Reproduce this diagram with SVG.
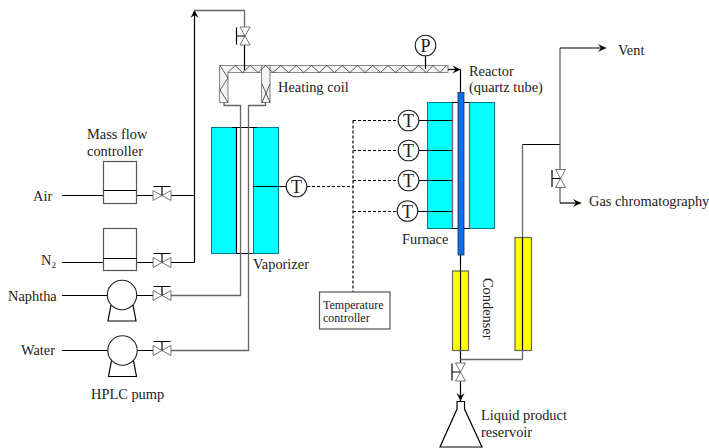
<svg xmlns="http://www.w3.org/2000/svg" width="709" height="448" viewBox="0 0 709 448">
<style>
text{font-family:"Liberation Serif","Times New Roman",serif;font-size:14.4px;fill:#222}
.small{font-size:12px}
.sym{font-size:18px;text-anchor:middle}
.k{fill:none;stroke:#000;stroke-width:1.2}
.g{fill:none;stroke:#666;stroke-width:1.3}
.d{fill:none;stroke:#000;stroke-width:1.2;stroke-dasharray:3 2}
.box{fill:#fff;stroke:#555;stroke-width:1.2}
.heat{fill:#00ffff;stroke:#078;stroke-width:1}
.cond{fill:#ffff00;stroke:#665;stroke-width:1.2}
.v{fill:#fff;stroke:#666;stroke-width:0.9}
.c{fill:#fff;stroke:#222;stroke-width:1.1}
.coil{fill:none;stroke:#333;stroke-width:0.8}
.band{fill:#f4f4f4;stroke:#888;stroke-width:1.1}
</style>
<defs>
<marker id="arr" markerUnits="userSpaceOnUse" markerWidth="12" markerHeight="10" refX="8" refY="5" orient="auto" overflow="visible">
<path d="M0,1 L8,5 L0,9 L3,5 Z" fill="#000"/>
</marker>
<g id="valveH">
<path class="v" d="M-9,-5 L0,0 L-9,5 Z M9,-5 L0,0 L9,5 Z"/>
<path class="k" d="M0,0 V-9 M-8.500,-9 H8.500"/>
</g>
<g id="valveV">
<path class="v" d="M-5,-9 L0,0 L5,-9 Z M-5,9 L0,0 L5,9 Z"/>
<path class="k" d="M0,0 H-8.500 M-8.500,-8.500 V8.500"/>
</g>
<g id="pump">
<circle class="c" r="14.700"/>
<path class="k" d="M-11,10 L-14,26 H14 L11,10" stroke-width="0.9"/>
</g>
<g id="tc">
<circle class="c" r="10.300"/>
<text class="sym" y="6.500">T</text>
</g>
</defs>

<g id="vaporizer">
<rect class="heat" x="211.500" y="127.500" width="25" height="126"/>
<rect class="heat" x="253.500" y="127.500" width="25" height="126"/>
<path class="k" d="M232,127.500 H257 M236.500,127.500 V253.500 M236.500,253.500 H253"/>
<text x="253" y="269">Vaporizer</text>
</g>

<g id="furnace">
<rect class="heat" x="427.500" y="102.500" width="25" height="126"/>
<rect class="heat" x="469.500" y="102.500" width="25" height="126"/>
<path class="g" d="M452.500,102.500 V228.500 M469.500,102.500 V228.500"/>
<path class="k" d="M452,102.500 H469 M452,228.500 H469"/>
<text x="402" y="244">Furnace</text>
</g>

<g id="reactor">
<rect x="458" y="92.500" width="6" height="162.500" fill="#0a6ff0" stroke="#135" stroke-width="0.800"/>
<text x="469" y="76">Reactor</text>
<text x="469" y="92">(quartz tube)</text>
</g>

<g id="heating-coil">
<path class="band" d="M219.500,65.500 H448 V72.500 H228 V102.500 H219.500 Z"/>
<rect class="band" x="261.500" y="65.500" width="8.500" height="37"/>
<path class="coil" d="M228,72.500 L235,65.500 L242.700,72.500 L250.300,65.500 L258,72.500 L265.600,65.500 L273,72.500 L280.900,65.500 L288.500,72.500 L296.200,65.500 L303.800,72.500 L311.500,65.500 L319.200,72.500 L326.800,65.500 L334.500,72.500 L342.100,65.500 L349.800,72.500 L357.400,65.500 L365.100,72.500 L372.700,65.500 L380.400,72.500 L388,65.500 L395.700,72.500 L403.300,65.500 L411,72.500 L418.600,65.500 L426.300,72.500 L433,65.500 L440,72.500 L446,66"/>
<path class="coil" d="M220,65.500 L228,78 L220,90 L228,102.500 M262,84 L270,102.500 M270,84 L262,102.500"/>
<text x="278" y="92">Heating coil</text>
</g>

<g id="connectors">
<path class="k" marker-end="url(#arr)" d="M194.500,262.500 V10"/>
<path class="g" d="M194,10.500 H244.500 V27"/>
<path class="k" d="M244.500,45 V70"/>
<path class="k" d="M62,195.500 H103 M136,195.500 H153 M171,195.500 H194.500"/>
<path class="k" d="M62,262.500 H103 M136,262.500 H153 M171,262.500 H194.500"/>
<path class="k" d="M62,295.500 H108 M136,295.500 H153"/>
<path class="g" d="M171,295.500 H240.500 V105.500 H224 V102"/>
<path class="k" d="M62,350.500 H108 M136,350.500 H153"/>
<path class="g" d="M171,350.500 H248.500 V105.500 H265.500 V102"/>
<path class="k" d="M253,186.500 H286"/>
<path class="d" d="M307,186.500 H353.500"/>
<path class="d" d="M353,120.500 V292 M353,120.500 H398 M353,150.500 H398 M353,180.500 H398 M353,211.500 H397"/>
<path class="k" d="M419,120.500 H452 M419,150.500 H452 M419,180.500 H452 M418,211.500 H452"/>
<path class="k" d="M425.500,56 V69"/>
<path class="k" marker-end="url(#arr)" d="M448,69.500 H460.500"/>
<path class="k" d="M460.500,69.500 V92.500"/>
<path class="k" d="M460.500,255 V363"/>
<path class="g" d="M460.500,359.500 H522.500"/>
<path class="g" d="M522.500,359.500 V350 M522.500,237 V144.500"/>
<path class="k" d="M522.500,144.500 H560"/>
<path class="g" d="M560,170 V48"/>
<path class="k" marker-end="url(#arr)" d="M560,48 H606"/>
<path class="g" d="M560,187 V203"/>
<path class="k" marker-end="url(#arr)" d="M560,203 H581"/>
<path class="k" marker-end="url(#arr)" d="M460.500,381 V401"/>
</g>

<g id="condenser-1">
<rect class="cond" x="452.500" y="271" width="16" height="79.500"/>
<path class="k" d="M460.500,271 V350"/>
<text transform="translate(483,278) rotate(90)">Condenser</text>
</g>
<g id="condenser-2">
<rect class="cond" x="515" y="237.500" width="16.500" height="113"/>
<path class="k" d="M522.500,237 V350"/>
</g>

<g id="mfc-air">
<rect class="box" x="103.500" y="161.500" width="33" height="42"/>
<path class="k" d="M103.500,190.500 H136.500"/>
<text x="87" y="139">Mass flow</text>
<text x="87" y="156">controller</text>
</g>
<g id="mfc-n2">
<rect class="box" x="103.500" y="228.500" width="33" height="42"/>
<path class="k" d="M103.500,258.500 H136.500"/>
</g>
<g id="pump-naphtha"><use href="#pump" x="122" y="295"/></g>
<g id="pump-water"><use href="#pump" x="122.500" y="350.500"/><text x="91" y="399">HPLC pump</text></g>

<g id="valves">
<use href="#valveH" x="162" y="195.500"/>
<use href="#valveH" x="162" y="262.500"/>
<use href="#valveH" x="162" y="295.500"/>
<use href="#valveH" x="162" y="350.500"/>
<use href="#valveV" x="245" y="36"/>
<use href="#valveV" x="560.500" y="178.500"/>
<use href="#valveV" x="460.500" y="372"/>
</g>

<g id="sources">
<text x="33" y="201">Air</text>
<text x="41" y="265">N<tspan font-size="9" dy="3">2</tspan></text>
<text x="8" y="301">Naphtha</text>
<text x="21" y="355">Water</text>
<text x="618" y="55">Vent</text>
<text x="589" y="206">Gas chromatography</text>
</g>

<g id="tc-vaporizer"><use href="#tc" x="296.500" y="186.500"/></g>
<g id="tc-1"><use href="#tc" x="408.500" y="120.500"/></g>
<g id="tc-2"><use href="#tc" x="408.500" y="150.500"/></g>
<g id="tc-3"><use href="#tc" x="408.500" y="180.500"/></g>
<g id="tc-4"><use href="#tc" x="407.500" y="211"/></g>
<g id="pressure"><circle class="c" cx="425.500" cy="45.500" r="10.300"/><text class="sym" x="425.500" y="52">P</text></g>

<g id="temperature-controller">
<rect class="box" x="319.500" y="292" width="70.500" height="37"/>
<text class="small" x="323" y="309">Temperature</text>
<text class="small" x="323" y="322">controller</text>
</g>

<g id="reservoir">
<path class="k" d="M457,409 V401.500 H464.500 V409 L482,447 H440 Z" stroke-width="0.900"/>
<text x="481" y="420">Liquid product</text>
<text x="481" y="437">reservoir</text>
</g>
</svg>
